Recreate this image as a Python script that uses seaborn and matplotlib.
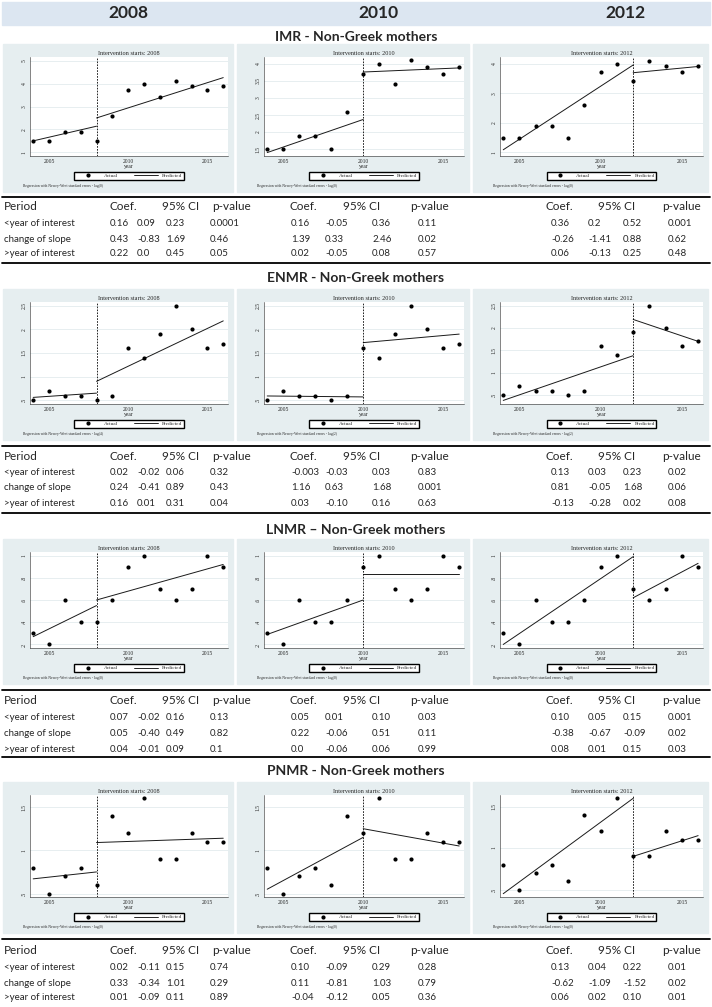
import matplotlib
matplotlib.use('Agg')
import matplotlib.pyplot as plt
import seaborn as sns
from matplotlib.lines import Line2D

# Data
years = list(range(2004, 2017))
imr = [1.5, 1.5, 1.9, 1.9, 1.5, 2.6, 3.7, 4.0, 3.4, 4.1, 3.9, 3.7, 3.9]
enmr = [0.5, 0.7, 0.6, 0.6, 0.5, 0.6, 1.6, 1.4, 1.9, 2.5, 2.0, 1.6, 1.7]
lnmr = [0.3, 0.2, 0.6, 0.4, 0.4, 0.6, 0.9, 1.0, 0.7, 0.6, 0.7, 1.0, 0.9]
pnmr = [0.8, 0.5, 0.7, 0.8, 0.6, 1.4, 1.2, 1.6, 0.9, 0.9, 1.2, 1.1, 1.1]

intervention_years = [2008, 2010, 2012]

# predicted values: (pre start, pre end, post start, post end) per intervention year
imr_pred = [(1.5, 2.14, 2.5, 4.26), (1.4, 2.37, 3.76, 3.88), (1.09, 3.95, 3.69, 3.9)]
enmr_pred = [(0.56, 0.65, 0.9, 2.18), (0.59, 0.57, 1.72, 1.9), (0.38, 1.38, 2.19, 1.7)]
lnmr_pred = [(0.27, 0.55, 0.6, 0.92), (0.29, 0.6, 0.83, 0.83), (0.2, 0.99, 0.62, 0.93)]
pnmr_pred = [(0.67, 0.75, 1.09, 1.14), (0.55, 1.15, 1.25, 1.05), (0.45, 1.6, 0.9, 1.15)]

# y axis ticks / labels per panel
imr_ticks = [[1, 2, 3, 4, 5], [1.5, 2, 2.5, 3, 3.5, 4], [1, 2, 3, 4]]
imr_ticklabels = [['1', '2', '3', '4', '5'], ['1.5', '2', '2.5', '3', '3.5', '4'], ['1', '2', '3', '4']]
enmr_ticks = [[0.5, 1, 1.5, 2, 2.5]] * 3
enmr_ticklabels = [['.5', '1', '1.5', '2', '2.5']] * 3
lnmr_ticks = [[0.2, 0.4, 0.6, 0.8, 1.0]] * 3
lnmr_ticklabels = [['.2', '.4', '.6', '.8', '1']] * 3
pnmr_ticks = [[0.5, 1, 1.5]] * 3
pnmr_ticklabels = [['.5', '1', '1.5']] * 3

lags = [['lag(0)', 'lag(0)', 'lag(0)'], ['lag(4)', 'lag(2)', 'lag(2)'],
        ['lag(0)', 'lag(0)', 'lag(0)'], ['lag(0)', 'lag(0)', 'lag(0)']]

titles = ['IMR - Non-Greek mothers', 'ENMR - Non-Greek mothers',
          'LNMR \u2013 Non-Greek mothers', 'PNMR - Non-Greek mothers']

row_labels = ['<year of interest', 'change of slope', '>year of interest']

imr_table = [
    [['0.16', '0.09', '0.23', '0.0001'], ['0.43', '-0.83', '1.69', '0.46'], ['0.22', '0.0', '0.45', '0.05']],
    [['0.16', '-0.05', '0.36', '0.11'], ['1.39', '0.33', '2.46', '0.02'], ['0.02', '-0.05', '0.08', '0.57']],
    [['0.36', '0.2', '0.52', '0.001'], ['-0.26', '-1.41', '0.88', '0.62'], ['0.06', '-0.13', '0.25', '0.48']],
]
enmr_table = [
    [['0.02', '-0.02', '0.06', '0.32'], ['0.24', '-0.41', '0.89', '0.43'], ['0.16', '0.01', '0.31', '0.04']],
    [['-0.003', '-0.03', '0.03', '0.83'], ['1.16', '0.63', '1.68', '0.001'], ['0.03', '-0.10', '0.16', '0.63']],
    [['0.13', '0.03', '0.23', '0.02'], ['0.81', '-0.05', '1.68', '0.06'], ['-0.13', '-0.28', '0.02', '0.08']],
]
lnmr_table = [
    [['0.07', '-0.02', '0.16', '0.13'], ['0.05', '-0.40', '0.49', '0.82'], ['0.04', '-0.01', '0.09', '0.1']],
    [['0.05', '0.01', '0.10', '0.03'], ['0.22', '-0.06', '0.51', '0.11'], ['0.0', '-0.06', '0.06', '0.99']],
    [['0.10', '0.05', '0.15', '0.001'], ['-0.38', '-0.67', '-0.09', '0.02'], ['0.08', '0.01', '0.15', '0.03']],
]
pnmr_table = [
    [['0.02', '-0.11', '0.15', '0.74'], ['0.33', '-0.34', '1.01', '0.29'], ['0.01', '-0.09', '0.11', '0.89']],
    [['0.10', '-0.09', '0.29', '0.28'], ['0.11', '-0.81', '1.03', '0.79'], ['-0.04', '-0.12', '0.05', '0.36']],
    [['0.13', '0.04', '0.22', '0.01'], ['-0.62', '-1.09', '-1.52', '0.02'], ['0.06', '0.02', '0.10', '0.01']],
]

series = [imr, enmr, lnmr, pnmr]
preds = [imr_pred, enmr_pred, lnmr_pred, pnmr_pred]
ticks = [imr_ticks, enmr_ticks, lnmr_ticks, pnmr_ticks]
ticklabels = [imr_ticklabels, enmr_ticklabels, lnmr_ticklabels, pnmr_ticklabels]
tables = [imr_table, enmr_table, lnmr_table, pnmr_table]

# ---- layout (pixels) ----
W, H = 712, 1007
sns.set_style('white')
plt.rcParams['font.family'] = ['Lato', 'DejaVu Sans']

fig = plt.figure(figsize=(W / 100, H / 100), dpi=100)


def fx(x):
    return x / W


def fy(y):
    return 1 - y / H


def bg_rect(x0, y0, x1, y1, color):
    r = plt.Rectangle((fx(x0), fy(y1)), (x1 - x0) / W, (y1 - y0) / H, transform=fig.transFigure,
                      color=color, zorder=-10)
    fig.add_artist(r)


# header band
bg_rect(2, 2, 710, 25, '#dce6f1')
for x, lab in zip([128, 378, 625], intervention_years):
    fig.text(fx(x), fy(13), str(lab), ha='center', va='center', fontsize=12.5, fontweight='bold')

blocks = [
    dict(title=37, top=44, bot=192, line1=197, period=207, rows=[223, 239, 254], line2=263),
    dict(title=278, top=289, bot=440, line1=446, period=457, rows=[472, 488, 503], line2=513),
    dict(title=530, top=539, bot=684, line1=690, period=701, rows=[717, 733, 749], line2=757),
    dict(title=771, top=782, bot=933, line1=939, period=951, rows=[967, 983, 998], line2=None),
]
panel_x = [(3, 233), (237, 469), (473, 708)]
col_header_x = [[110, 162, 212], [290, 343, 410], [545, 598, 662]]
col_val_x = [[110, 137, 166, 210], [291, 325, 372, 418], [551, 588, 623, 668]]

serif = ['Liberation Serif', 'DejaVu Serif']

for b, blk in enumerate(blocks):
    fig.text(0.5, fy(blk['title']), titles[b], ha='center', va='center', fontsize=10, fontweight='bold')
    for p, (x0, x1) in enumerate(panel_x):
        bg_rect(x0, blk['top'], x1, blk['bot'], '#e6eef0')
        ax_top = blk['top'] + 13
        ax_bot = blk['bot'] - 36
        ax_h = ax_bot - ax_top
        ax = fig.add_axes([fx(x0 + 27), fy(ax_bot), (x1 - x0 - 32) / W, ax_h / H])
        ax.set_facecolor('white')
        iy = intervention_years[p]
        yv = series[b]
        pr = preds[b][p]
        sns.scatterplot(x=years, y=yv, ax=ax, color='black', s=9, edgecolor='black', linewidth=0, zorder=3)
        sns.lineplot(x=[2004, iy], y=[pr[0], pr[1]], ax=ax, color='#1a1a1a', lw=0.7)
        sns.lineplot(x=[iy, 2016], y=[pr[2], pr[3]], ax=ax, color='#1a1a1a', lw=0.7)
        ax.axvline(iy, color='black', ls=(0, (2, 1.5)), lw=0.6)
        tk = ticks[b][p]
        span = tk[-1] - tk[0]
        lo = min(tk[0], min(yv), min(pr))
        hi = max(tk[-1], max(yv), max(pr))
        ax.set_ylim(lo - 0.04 * span, hi + 0.04 * span)
        ax.set_xlim(2003.8, 2016.3)
        ax.set_yticks(tk)
        ax.set_yticklabels(ticklabels[b][p], rotation=90, va='center', fontsize=4, family=serif)
        ax.set_xticks([2005, 2010, 2015])
        ax.set_xticklabels(['2005', '2010', '2015'], fontsize=4, family=serif)
        ax.tick_params(length=1.5, width=0.4, pad=1)
        ax.yaxis.grid(True, color='#e3ebee', lw=0.6)
        for s in ['top', 'right']:
            ax.spines[s].set_visible(False)
        for s in ['left', 'bottom']:
            ax.spines[s].set_linewidth(0.4)
        ax.set_xlabel('year', fontsize=4, family=serif, labelpad=0)
        ax.set_ylabel('')
        ax.set_title('Intervention starts: %d' % iy, fontsize=4.5, family=serif, pad=1.5)
        handles = [Line2D([], [], marker='o', ls='', color='black', markersize=2),
                   Line2D([], [], color='black', lw=0.6)]
        leg_y = -(blk['bot'] - 16 - ax_bot) / ax_h
        ax.legend(handles, ['Actual', 'Predicted'], loc='center', bbox_to_anchor=(0.5, leg_y),
                  ncol=2, frameon=True, fancybox=False, edgecolor='black', prop={'family': serif, 'size': 3.8},
                  handlelength=4.5, handletextpad=0.8, columnspacing=3, borderpad=0.3, framealpha=1)
        fig.text(fx(x0 + 20), fy(blk['bot'] - 6),
                 'Regression with Newey-West standard errors - ' + lags[b][p],
                 fontsize=2.7, family=serif, va='center')

    # table
    fig.add_artist(Line2D([fx(2), fx(710)], [fy(blk['line1'])] * 2, color='black', lw=1.3))
    fig.text(fx(4), fy(blk['period']), 'Period', fontsize=8.5, va='center')
    for p in range(3):
        hx = col_header_x[p]
        fig.text(fx(hx[0]), fy(blk['period']), 'Coef.', fontsize=8.5, va='center')
        fig.text(fx(hx[1]), fy(blk['period']), '95% CI', fontsize=8.5, va='center')
        fig.text(fx(hx[2]), fy(blk['period']), 'p-value', fontsize=8.5, va='center')
    for r, ry in enumerate(blk['rows']):
        fig.text(fx(4), fy(ry), row_labels[r], fontsize=7, va='center')
        for p in range(3):
            for c, cx in enumerate(col_val_x[p]):
                fig.text(fx(cx), fy(ry), tables[b][p][r][c], fontsize=7, va='center')
    if blk['line2'] is not None:
        fig.add_artist(Line2D([fx(2), fx(710)], [fy(blk['line2'])] * 2, color='black', lw=1.3))

fig.savefig('out.png', dpi=100)
